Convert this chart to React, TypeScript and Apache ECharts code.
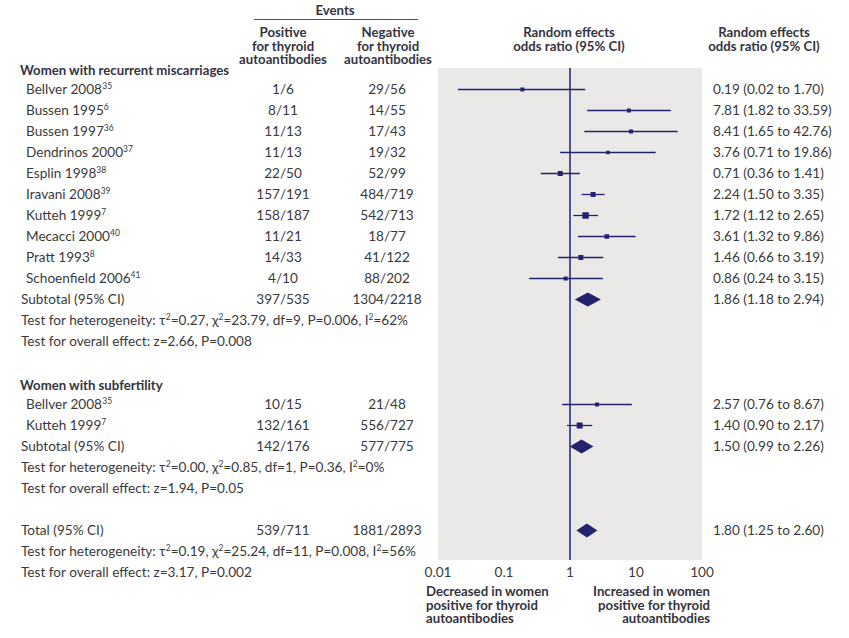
import React, { useEffect, useRef } from 'react';
import * as echarts from 'echarts';

// ---------- data ----------
const studyNames = ['Bellver 2008', 'Bussen 1995', 'Bussen 1997', 'Dendrinos 2000', 'Esplin 1998', 'Iravani 2008', 'Kutteh 1999', 'Mecacci 2000', 'Pratt 1993', 'Schoenfield 2006', 'Bellver 2008', 'Kutteh 1999'];
const studyRefs = ['35', '6', '36', '37', '38', '39', '7', '40', '8', '41', '35', '7'];
const studyRows = [1, 2, 3, 4, 5, 6, 7, 8, 9, 10, 16, 17];
const positiveEvents = ['1/6', '8/11', '11/13', '11/13', '22/50', '157/191', '158/187', '11/21', '14/33', '4/10', '10/15', '132/161'];
const negativeEvents = ['29/56', '14/55', '17/43', '19/32', '52/99', '484/719', '542/713', '18/77', '41/122', '88/202', '21/48', '556/727'];
const oddsRatio = [0.19, 7.81, 8.41, 3.76, 0.71, 2.24, 1.72, 3.61, 1.46, 0.86, 2.57, 1.40];
const ciLower = [0.02, 1.82, 1.65, 0.71, 0.36, 1.50, 1.12, 1.32, 0.66, 0.24, 0.76, 0.90];
const ciUpper = [1.70, 33.59, 42.76, 19.86, 1.41, 3.35, 2.65, 9.86, 3.19, 3.15, 8.67, 2.17];
const markerSizes = [4, 4, 4, 3.5, 5, 5, 6.5, 4.5, 5, 4, 4, 6];

const pooledNames = ['Subtotal (95% CI)', 'Subtotal (95% CI)', 'Total (95% CI)'];
const pooledRows = [11, 18, 22];
const pooledPositive = ['397/535', '142/176', '539/711'];
const pooledNegative = ['1304/2218', '577/775', '1881/2893'];
const pooledOR = [1.86, 1.50, 1.80];
const pooledLower = [1.18, 0.99, 1.25];
const pooledUpper = [2.94, 2.26, 2.60];

const groupHeaders = ['Women with recurrent miscarriages', 'Women with subfertility'];
const groupHeaderRows = [0, 15];

const heterogeneityTexts = [
  'Test for heterogeneity: τ{sup|2}=0.27, χ{sup|2}=23.79, df=9, P=0.006, I{sup|2}=62%',
  'Test for heterogeneity: τ{sup|2}=0.00, χ{sup|2}=0.85, df=1, P=0.36, I{sup|2}=0%',
  'Test for heterogeneity: τ{sup|2}=0.19, χ{sup|2}=25.24, df=11, P=0.008, I{sup|2}=56%',
];
const heterogeneityRows = [12, 19, 23];
const overallTexts = [
  'Test for overall effect: z=2.66, P=0.008',
  'Test for overall effect: z=1.94, P=0.05',
  'Test for overall effect: z=3.17, P=0.002',
];
const overallRows = [13, 20, 24];

const xTickValues = [0.01, 0.1, 1, 10, 100];
const xTickLabels = ['0.01', '0.1', '1', '10', '100'];

const positiveHeader = 'Positive\nfor thyroid\nautoantibodies';
const negativeHeader = 'Negative\nfor thyroid\nautoantibodies';
const orHeader = 'Random effects\nodds ratio (95% CI)';
const decreasedLabel = 'Decreased in women\npositive for thyroid\nautoantibodies';
const increasedLabel = 'Increased in women\npositive for thyroid\nautoantibodies';

// ---------- style ----------
const NAVY = '#22226e';
const TEXT = '#3a3a3a';
const BOLD = '#34343e';
const FONT = 'Lato';
const FS = 13.6;
const FSB = 13.2;
const FS_BLOCK = 13.2;
const GRID_LEFT = 438;
const GRID_RIGHT_EDGE = 702;
const GRID_TOP = 68;
const GRID_BOTTOM_EDGE = 560;
const ROW_H = 21;
const Y_MAX = (GRID_BOTTOM_EDGE - GRID_TOP) / ROW_H;

const COL_LABEL = 26;
const COL_LABEL_SUB = 21;
const COL_POS = 283;
const COL_NEG = 387;
const COL_RES = 713;

const fmt = (v: number) => v.toFixed(2);

export default function App() {
  const ref = useRef<HTMLDivElement>(null);
  useEffect(() => {
    if (!ref.current) return;
    const chart = echarts.init(ref.current, null, { renderer: 'svg' });

    const rowY = (r: number) => GRID_TOP + r * ROW_H;
    const rich = {
      sup: { fontSize: 8.5, fontFamily: FONT, fill: TEXT, color: TEXT, verticalAlign: 'top', lineHeight: 6 },
    };
    const txt = (x: number, y: number, text: string, opts: any = {}) => ({
      type: 'text',
      x,
      y,
      silent: true,
      style: {
        text,
        fontFamily: FONT,
        fontSize: opts.fs || (opts.bold ? FSB : FS),
        fill: opts.bold ? BOLD : TEXT,
        fontWeight: opts.bold ? 'bold' : 'normal',
        textAlign: opts.align || 'left',
        align: opts.align || 'left',
        textVerticalAlign: opts.valign || 'middle',
        verticalAlign: opts.valign || 'middle',
        lineHeight: opts.lh || 16,
        rich: opts.noRich ? undefined : rich,
      },
    });
    const block = (x: number, firstCenter: number, text: string, align: string, lh: number, fs: number) =>
      txt(x, firstCenter - lh / 2, text, { bold: true, align, lh, valign: 'top', noRich: true, fs });

    const graphics: any[] = [];
    // headers
    graphics.push(txt(335, 10, 'Events', { bold: true, align: 'center', lh: 13 }));
    graphics.push({ type: 'line', silent: true, shape: { x1: 254, y1: 19.5, x2: 418, y2: 19.5 }, style: { stroke: '#555', lineWidth: 1 } });
    graphics.push(block(COL_POS, 32, positiveHeader, 'center', 13.6, FS_BLOCK));
    graphics.push(block(COL_NEG + 1, 32, negativeHeader, 'center', 13.6, FS_BLOCK));
    graphics.push(block(569, 32, orHeader, 'center', 13.6, FS_BLOCK));
    graphics.push(block(764, 32, orHeader, 'center', 13.6, FS_BLOCK));

    groupHeaders.forEach((t, i) => graphics.push(txt(20, rowY(groupHeaderRows[i]) + 1.5, t, { bold: true })));
    studyNames.forEach((n, i) => {
      const y = rowY(studyRows[i]);
      graphics.push(txt(COL_LABEL, y, `${n}{sup|${studyRefs[i]}}`));
      graphics.push(txt(COL_POS, y, positiveEvents[i], { align: 'center' }));
      graphics.push(txt(COL_NEG, y, negativeEvents[i], { align: 'center' }));
      graphics.push(txt(COL_RES, y, `${fmt(oddsRatio[i])} (${fmt(ciLower[i])} to ${fmt(ciUpper[i])})`));
    });
    pooledNames.forEach((n, i) => {
      const y = rowY(pooledRows[i]);
      graphics.push(txt(COL_LABEL_SUB, y, n));
      graphics.push(txt(COL_POS, y, pooledPositive[i], { align: 'center' }));
      graphics.push(txt(COL_NEG, y, pooledNegative[i], { align: 'center' }));
      graphics.push(txt(COL_RES, y, `${fmt(pooledOR[i])} (${fmt(pooledLower[i])} to ${fmt(pooledUpper[i])})`));
    });
    heterogeneityTexts.forEach((t, i) => graphics.push(txt(COL_LABEL_SUB, rowY(heterogeneityRows[i]), t)));
    overallTexts.forEach((t, i) => graphics.push(txt(COL_LABEL_SUB, rowY(overallRows[i]), t)));

    graphics.push(block(426, 591, decreasedLabel, 'left', 13.5, FS_BLOCK));
    graphics.push(block(710, 591, increasedLabel, 'right', 13.5, FS_BLOCK));

    const studyData = studyNames.map((_, i) => [studyRows[i], ciLower[i], ciUpper[i], oddsRatio[i], markerSizes[i]]);
    const pooledData = pooledNames.map((_, i) => [pooledRows[i], pooledLower[i], pooledUpper[i], pooledOR[i]]);

    chart.setOption({
      animation: false,
      grid: {
        left: GRID_LEFT,
        top: GRID_TOP,
        width: GRID_RIGHT_EDGE - GRID_LEFT,
        height: GRID_BOTTOM_EDGE - GRID_TOP,
        show: true,
        backgroundColor: '#ebe9e8',
        borderWidth: 0,
      },
      xAxis: {
        type: 'log',
        logBase: 10,
        min: 0.01,
        max: 100,
        axisLine: { show: false },
        splitLine: { show: false },
        axisTick: { show: true, inside: true, length: 4, lineStyle: { color: '#ffffff', width: 1.5 } },
        axisLabel: {
          margin: 5,
          fontFamily: FONT,
          fontSize: FS,
          color: TEXT,
          formatter: (v: number) => {
            const idx = xTickValues.findIndex((t) => Math.abs(Math.log10(t) - Math.log10(v)) < 1e-6);
            return idx >= 0 ? xTickLabels[idx] : '';
          },
        },
      },
      yAxis: { type: 'value', inverse: true, min: 0, max: Y_MAX, show: false },
      graphic: { elements: graphics },
      series: [
        {
          type: 'custom',
          data: studyData,
          encode: { x: [1, 2, 3], y: 0 },
          renderItem: (params: any, api: any) => {
            const row = api.value(0);
            const lo = api.coord([api.value(1), row]);
            const hi = api.coord([api.value(2), row]);
            const c = api.coord([api.value(3), row]);
            const s = api.value(4);
            return {
              type: 'group',
              children: [
                { type: 'line', shape: { x1: lo[0], y1: lo[1] + 0.5, x2: hi[0], y2: hi[1] + 0.5 }, style: { stroke: NAVY, lineWidth: 1.3 } },
                { type: 'rect', shape: { x: c[0] - s / 2, y: c[1] + 0.5 - s / 2, width: s, height: s }, style: { fill: NAVY } },
              ],
            };
          },
        },
        {
          type: 'custom',
          data: pooledData,
          encode: { x: [1, 2, 3], y: 0 },
          renderItem: (params: any, api: any) => {
            const row = api.value(0);
            const lo = api.coord([api.value(1), row]);
            const hi = api.coord([api.value(2), row]);
            const c = api.coord([api.value(3), row]);
            const cy = c[1] + 0.5;
            return {
              type: 'polygon',
              shape: { points: [[lo[0], cy], [c[0], cy - 7], [hi[0], cy], [c[0], cy + 7]] },
              style: { fill: NAVY },
            };
          },
          markLine: {
            silent: true,
            symbol: 'none',
            label: { show: false },
            lineStyle: { color: NAVY, width: 1.5, type: 'solid' },
            data: [{ xAxis: 1 }],
          },
        },
      ],
    });

    return () => chart.dispose();
  }, []);

  return <div ref={ref} style={{ width: 849, height: 638, position: 'absolute', left: 0, top: 0 }} />;
}
